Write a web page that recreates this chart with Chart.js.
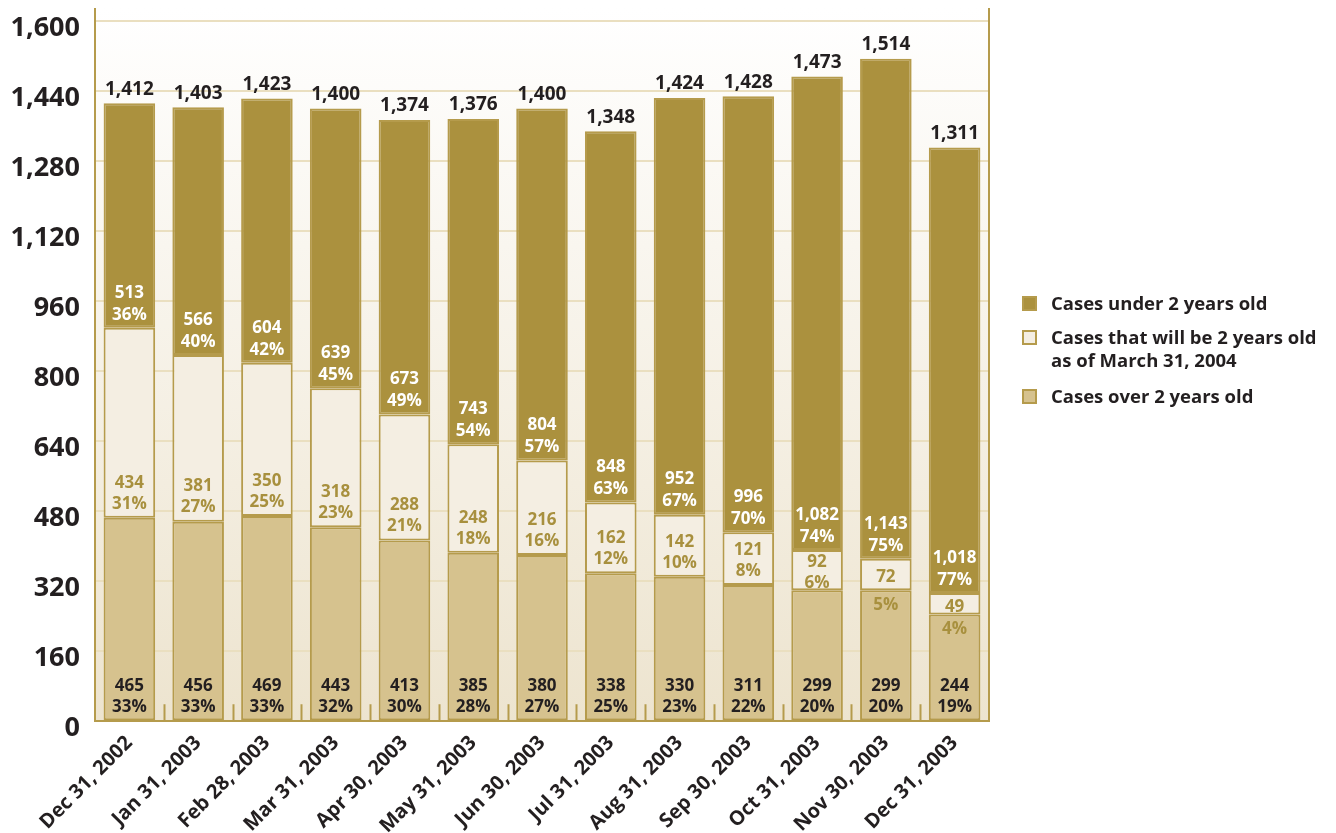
<!DOCTYPE html>
<html>
<head>
<meta charset="utf-8">
<script src="https://cdn.jsdelivr.net/npm/chart.js@4.4.1/dist/chart.umd.min.js"></script>
<style>
  html, body { margin: 0; padding: 0; background: #fff; }
  #wrap { position: relative; width: 1336px; height: 833px; }
  .lg { position: absolute; left: 1022px; font: bold 18.5px "Open Sans", sans-serif; color: #231f20; line-height: 23px; }
  .lg span.sq { position: absolute; left: 0; top: 5px; width: 11px; height: 11px; border: 2px solid #b59b4c; }
  .lg div { margin-left: 29px; white-space: nowrap; }
</style>
</head>
<body>
<div id="wrap">
  <canvas id="chart" width="1336" height="833"></canvas>
  <div class="lg" style="top:291px"><span class="sq" style="background:#ab913e"></span><div>Cases under 2 years old</div></div>
  <div class="lg" style="top:325px"><span class="sq" style="background:#f4eee2"></span><div>Cases that will be 2 years old<br>as of March 31, 2004</div></div>
  <div class="lg" style="top:384px"><span class="sq" style="background:#d6c28e"></span><div>Cases over 2 years old</div></div>
</div>
<script>
// chart values
const months = ['Dec 31, 2002', 'Jan 31, 2003', 'Feb 28, 2003', 'Mar 31, 2003', 'Apr 30, 2003', 'May 31, 2003',
  'Jun 30, 2003', 'Jul 31, 2003', 'Aug 31, 2003', 'Sep 30, 2003', 'Oct 31, 2003', 'Nov 30, 2003', 'Dec 31, 2003'];
const totals = [1412, 1403, 1423, 1400, 1374, 1376, 1400, 1348, 1424, 1428, 1473, 1514, 1311];
const under2 = [513, 566, 604, 639, 673, 743, 804, 848, 952, 996, 1082, 1143, 1018];
const under2Pct = [36, 40, 42, 45, 49, 54, 57, 63, 67, 70, 74, 75, 77];
const willBe2 = [434, 381, 350, 318, 288, 248, 216, 162, 142, 121, 92, 72, 49];
const willBe2Pct = [31, 27, 25, 23, 21, 18, 16, 12, 10, 8, 6, 5, 4];
const over2 = [465, 456, 469, 443, 413, 385, 380, 338, 330, 311, 299, 299, 244];
const over2Pct = [33, 33, 33, 32, 30, 28, 27, 25, 23, 22, 20, 20, 19];
const yTicks = [0, 160, 320, 480, 640, 800, 960, 1120, 1280, 1440, 1600];

const GOLD = '#b59b4c';
const DARK = '#231f20';
const FONT = '"Open Sans", sans-serif';
const fmt = v => v.toLocaleString('en-US');

// background gradient, axis lines and little bottom ticks
const framePlugin = {
  id: 'frame',
  beforeDraw(chart) {
    const { ctx, chartArea: a } = chart;
    const top = a.top - 13;
    const g = ctx.createLinearGradient(0, top, 0, a.bottom);
    g.addColorStop(0, '#ffffff');
    g.addColorStop(1, '#ede4cf');
    ctx.save();
    ctx.fillStyle = g;
    ctx.fillRect(a.left, top, a.right - a.left, a.bottom - top);
    ctx.restore();
  },
  afterDatasetsDraw(chart) {
    const { ctx, chartArea: a } = chart;
    const top = a.top - 13;
    ctx.save();
    ctx.strokeStyle = GOLD;
    ctx.lineWidth = 2;
    ctx.beginPath();
    ctx.moveTo(a.left, top); ctx.lineTo(a.left, a.bottom);
    ctx.moveTo(a.right, top); ctx.lineTo(a.right, a.bottom);
    const n = months.length;
    const w = (a.right - a.left) / n;
    for (let i = 1; i < n; i++) {
      const x = Math.round(a.left + i * w) + 0.5;
      ctx.moveTo(x, a.bottom - 17); ctx.lineTo(x, a.bottom);
    }
    ctx.stroke();
    ctx.restore();
  }
};

const labelPlugin = {
  id: 'segLabels',
  afterDatasetsDraw(chart) {
    const ctx = chart.ctx;
    const mOver = chart.getDatasetMeta(0).data;
    const mWill = chart.getDatasetMeta(1).data;
    const mUnder = chart.getDatasetMeta(2).data;
    ctx.save();
    ctx.textAlign = 'center';
    ctx.textBaseline = 'middle';
    for (let i = 0; i < months.length; i++) {
      const o = mOver[i], w = mWill[i], u = mUnder[i];
      ctx.font = 'bold 17px ' + FONT;
      // over 2
      ctx.fillStyle = DARK;
      ctx.fillText(fmt(over2[i]), o.x, o.base - 34);
      ctx.fillText(over2Pct[i] + '%', o.x, o.base - 13);
      // will be 2
      ctx.fillStyle = '#a8903e';
      if (w.base - w.y >= 38) {
        const vy = Math.max(w.base - 35, w.y + 12);
        ctx.fillText(fmt(willBe2[i]), w.x, vy);
        ctx.fillText(willBe2Pct[i] + '%', w.x, vy + 21);
      } else {
        ctx.fillText(fmt(willBe2[i]), w.x, (w.y + w.base) / 2 + 3);
        ctx.fillText(willBe2Pct[i] + '%', w.x, w.base + 15);
      }
      // under 2
      ctx.fillStyle = '#ffffff';
      ctx.fillText(fmt(under2[i]), u.x, u.base - 35);
      ctx.fillText(under2Pct[i] + '%', u.x, u.base - 13);
      // total
      ctx.fillStyle = DARK;
      ctx.font = 'bold 19px ' + FONT;
      ctx.fillText(fmt(totals[i]), u.x, u.y - 14);
    }
    ctx.restore();
  }
};

const seg = (label, data, color) => ({
  label, data,
  backgroundColor: color,
  borderColor: GOLD,
  borderWidth: 2,
  borderSkipped: false,
  barPercentage: 0.75,
  categoryPercentage: 1
});

new Chart(document.getElementById('chart'), {
  type: 'bar',
  data: {
    labels: months,
    datasets: [
      seg('Cases over 2 years old', over2, '#d6c28e'),
      seg('Cases that will be 2 years old as of March 31, 2004', willBe2, '#f4eee2'),
      seg('Cases under 2 years old', under2, '#ab913e')
    ]
  },
  options: {
    responsive: false,
    animation: false,
    layout: { padding: { left: 0, right: 347, top: 0, bottom: -7 } },
    plugins: { legend: { display: false }, tooltip: { enabled: false } },
    scales: {
      x: {
        stacked: true,
        grid: { display: false },
        border: { display: true, color: GOLD, width: 2 },
        ticks: {
          color: DARK,
          font: { family: FONT, size: 20, weight: 'bold' },
          minRotation: 45, maxRotation: 45,
          padding: 2
        }
      },
      y: {
        stacked: true,
        min: 0, max: 1600,
        afterBuildTicks(scale) { scale.ticks = yTicks.map(v => ({ value: v })); },
        afterFit(scale) { scale.width = 95; scale.paddingTop = 21; },
        grid: { color: '#eadfc0', lineWidth: 2, drawTicks: false },
        border: { display: false },
        ticks: {
          color: DARK,
          font: { family: FONT, size: 27, weight: 'bold' },
          padding: 15,
          labelOffset: 7,
          callback: v => fmt(v)
        }
      }
    }
  },
  plugins: [framePlugin, labelPlugin]
});
</script>
</body>
</html>
